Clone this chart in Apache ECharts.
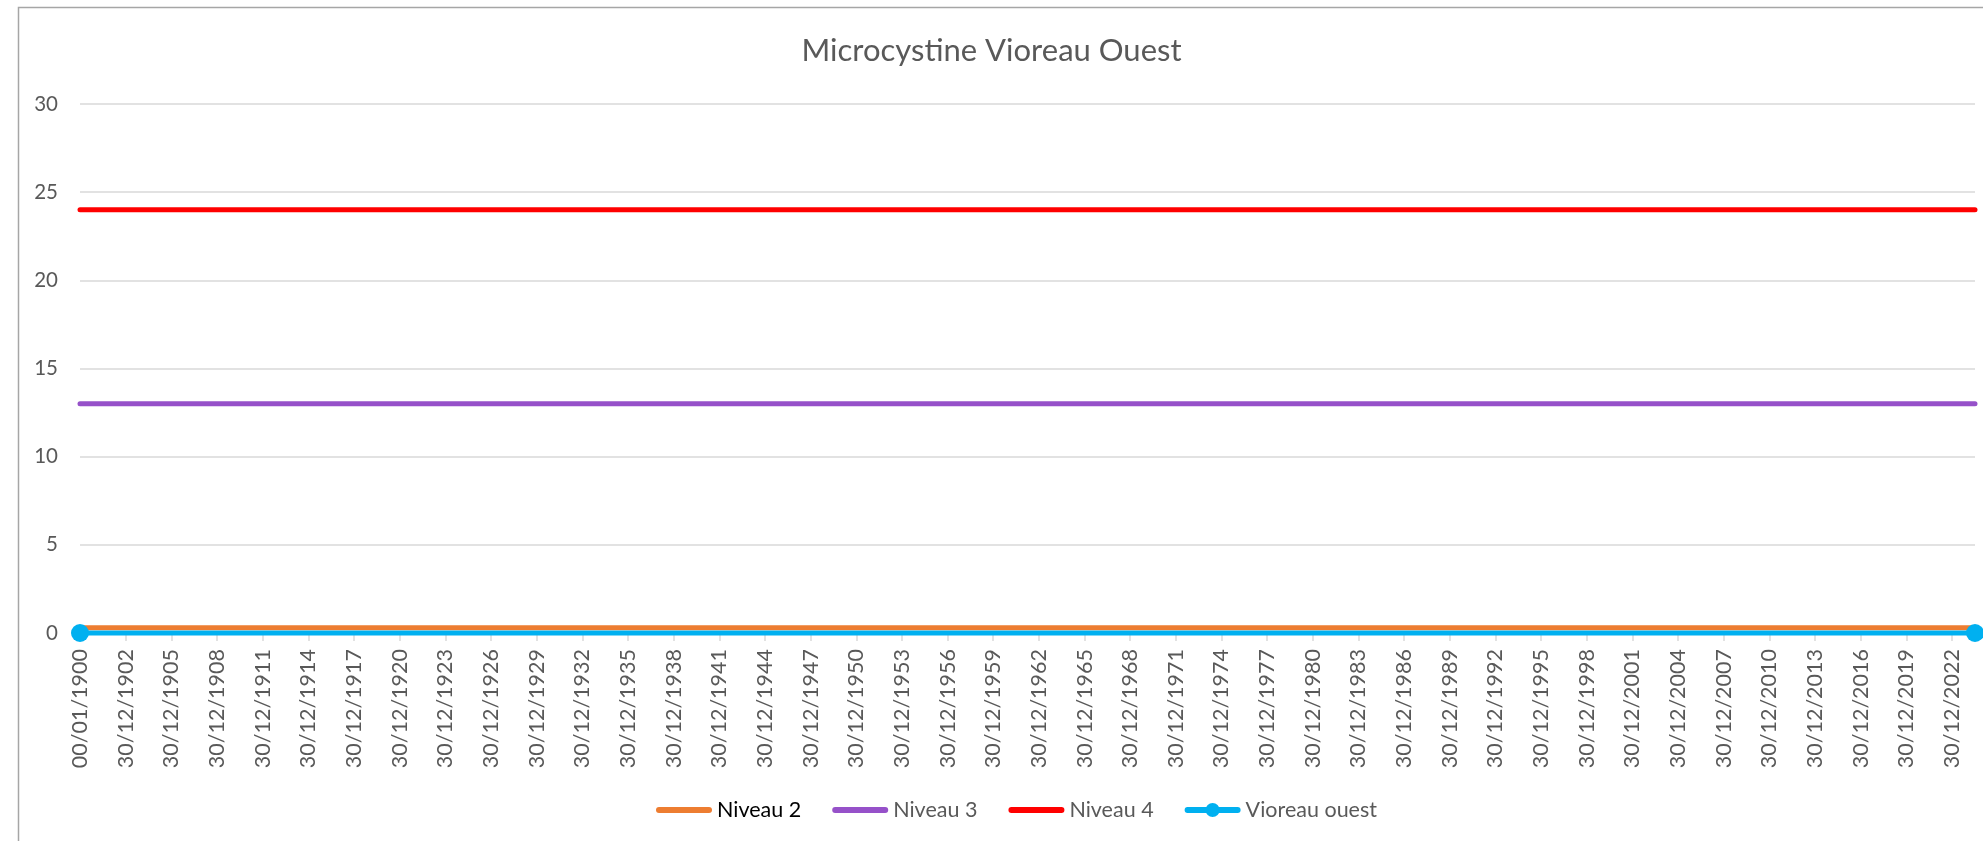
<!DOCTYPE html>
<html>
<head>
<meta charset="utf-8">
<script src="https://cdn.jsdelivr.net/npm/echarts@6/dist/echarts.min.js"></script>
<style>
html,body{margin:0;padding:0;background:#fff;}
#chart{width:1983px;height:841px;}
</style>
</head>
<body>
<div id="chart"></div>
<script>
// Excel date serials (days since 00/01/1900)
const dates = [0, 45443];
const niveau2 = [0.3, 0.3];
const niveau3 = [13, 13];
const niveau4 = [24, 24];
const vioreauOuest = [0, 0];
const tickStep = 1095;
const tickLabels = ['00/01/1900','30/12/1902','30/12/1905','30/12/1908','30/12/1911','30/12/1914','30/12/1917','30/12/1920','30/12/1923','30/12/1926','30/12/1929','30/12/1932','30/12/1935','30/12/1938','30/12/1941','30/12/1944','30/12/1947','30/12/1950','30/12/1953','30/12/1956','30/12/1959','30/12/1962','30/12/1965','30/12/1968','30/12/1971','30/12/1974','30/12/1977','30/12/1980','30/12/1983','30/12/1986','30/12/1989','30/12/1992','30/12/1995','30/12/1998','30/12/2001','30/12/2004','30/12/2007','30/12/2010','30/12/2013','30/12/2016','30/12/2019','30/12/2022'];
const yTicks = [0, 5, 10, 15, 20, 25, 30];

const FONT = 'Lato';
const pair = (ys) => dates.map((d, i) => [d, ys[i]]);

const lineIcon = 'path://M3,0 H53 A3,3 0 0,1 53,6 H3 A3,3 0 0,1 3,0 Z';
const dotIcon = 'path://M3,4 H53 A3,3 0 0,1 53,10 H3 A3,3 0 0,1 3,4 Z M35,7 A7,7 0 1,1 21,7 A7,7 0 1,1 35,7 Z';

const chart = echarts.init(document.getElementById('chart'), null, {renderer: 'canvas'});
chart.setOption({
  animation: false,
  backgroundColor: '#ffffff',
  textStyle: {fontFamily: FONT},
  graphic: [{
    type: 'rect', left: 16, top: 5, silent: true,
    shape: {width: 2000, height: 900},
    style: {fill: 'none', stroke: '#a6a6a6', lineWidth: 1.5}
  }],
  title: {
    text: 'Microcystine Vioreau Ouest',
    left: 'center', top: 30,
    textStyle: {fontFamily: FONT, fontSize: 31, fontWeight: 'normal', color: '#595959'}
  },
  grid: {left: 80, right: 8, top: 104, bottom: 208, containLabel: false},
  legend: {
    left: 651, top: 794,
    itemWidth: 56, itemHeight: 14, itemGap: 31,
    textStyle: {fontFamily: FONT, fontSize: 21.5, color: '#595959'},
    data: [
      {name: 'Niveau 2', icon: lineIcon, textStyle: {color: '#000000'}},
      {name: 'Niveau 3', icon: lineIcon},
      {name: 'Niveau 4', icon: lineIcon},
      {name: 'Vioreau ouest', icon: dotIcon}
    ]
  },
  xAxis: {
    type: 'value', min: dates[0], max: dates[dates.length - 1], interval: tickStep,
    axisLine: {show: false},
    splitLine: {show: false},
    axisTick: {show: true, length: 8, lineStyle: {color: '#d9d9d9', width: 1.5}},
    axisLabel: {
      rotate: 90, margin: 16, fontFamily: FONT, fontSize: 21.5, color: '#595959',
      showMaxLabel: false,
      formatter: (v) => {
        const i = Math.round(v / tickStep);
        return (Math.abs(v - i * tickStep) < 1 && tickLabels[i]) ? tickLabels[i] : '';
      }
    }
  },
  yAxis: {
    type: 'value', min: yTicks[0], max: yTicks[yTicks.length - 1], interval: 5,
    axisLine: {show: false}, axisTick: {show: false},
    splitLine: {show: true, lineStyle: {color: '#d9d9d9', width: 1.5}},
    axisLabel: {margin: 22, fontFamily: FONT, fontSize: 20.5, color: '#595959'}
  },
  series: [
    {name: 'Niveau 2', type: 'line', data: pair(niveau2), showSymbol: false, symbol: 'none',
     lineStyle: {color: '#ed7d31', width: 5, cap: 'round'}, itemStyle: {color: '#ed7d31'}},
    {name: 'Niveau 3', type: 'line', data: pair(niveau3), showSymbol: false, symbol: 'none',
     lineStyle: {color: '#9651c9', width: 5, cap: 'round'}, itemStyle: {color: '#9651c9'}},
    {name: 'Niveau 4', type: 'line', data: pair(niveau4), showSymbol: false, symbol: 'none',
     lineStyle: {color: '#ff0000', width: 5, cap: 'round'}, itemStyle: {color: '#ff0000'}},
    {name: 'Vioreau ouest', type: 'line', data: pair(vioreauOuest), symbol: 'circle', symbolSize: 18,
     clip: false,
     lineStyle: {color: '#00b0f0', width: 5, cap: 'round'}, itemStyle: {color: '#00b0f0'}}
  ]
});
</script>
</body>
</html>
